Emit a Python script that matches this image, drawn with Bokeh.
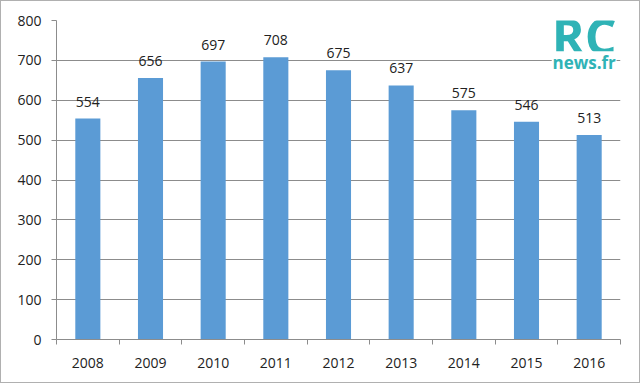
from bokeh.plotting import figure
from bokeh.models import ColumnDataSource, FixedTicker, Range1d, Label
from bokeh.core.properties import value
from bokeh.embed import file_html
from bokeh.resources import INLINE

years = ["2008", "2009", "2010", "2011", "2012", "2013", "2014", "2015", "2016"]
values = [554, 656, 697, 708, 675, 637, 575, 546, 513]
y_ticks = [0, 100, 200, 300, 400, 500, 600, 700, 800]

xs = [i + 0.5 for i in range(len(years))]
src = ColumnDataSource(dict(x=xs, top=values, label=[str(v) for v in values]))

p = figure(width=640, height=383, output_backend="svg", toolbar_location=None,
           x_range=Range1d(0, len(years)), y_range=Range1d(0, 800),
           min_border_left=55, min_border_right=21, min_border_top=19, min_border_bottom=45)
p.styles = {"border": "1px solid #b0b0b0", "box-sizing": "border-box"}
p.outline_line_color = None
p.background_fill_color = "white"
p.border_fill_color = "white"

p.vbar(x="x", top="top", width=0.4, bottom=0, source=src, fill_color="#5B9BD5", line_color=None)
p.text(x="x", y="top", text="label", source=src, text_align="center", text_baseline="middle",
       y_offset=-17, text_font_size="14px", text_color="#222222", text_font=value("Open Sans"))

p.xaxis.ticker = FixedTicker(ticks=xs, minor_ticks=list(range(len(years) + 1)))
p.xaxis.major_label_overrides = {x: y for x, y in zip(xs, years)}
p.xaxis.major_tick_line_color = None
p.xaxis.minor_tick_line_color = "#8c8c8c"
p.xaxis.minor_tick_in = 0
p.xaxis.minor_tick_out = 5
p.xaxis.axis_line_color = "#8c8c8c"
p.xaxis.major_label_standoff = 12
p.xaxis.major_label_text_font_size = "14px"
p.xaxis.major_label_text_font = "Open Sans"
p.xaxis.major_label_text_color = "#222222"

p.yaxis.ticker = FixedTicker(ticks=y_ticks)
p.yaxis.minor_tick_line_color = None
p.yaxis.major_tick_line_color = "#8c8c8c"
p.yaxis.major_tick_in = 0
p.yaxis.major_tick_out = 5
p.yaxis.axis_line_color = "#8c8c8c"
p.yaxis.major_label_standoff = 10
p.yaxis.major_label_text_font_size = "14px"
p.yaxis.major_label_text_font = "Open Sans"
p.yaxis.major_label_text_color = "#222222"

p.xgrid.grid_line_color = None
p.ygrid.grid_line_color = "#8c8c8c"
p.ygrid.ticker = FixedTicker(ticks=y_ticks)

# logo
p.add_layout(Label(x=8.42, y=762, text="RC", text_align="center", text_baseline="middle",
                   text_font="Open Sans", text_font_style="bold", text_font_size="50px",
                   text_color="#2fb3b6", background_fill_color="white"))
p.add_layout(Label(x=8.42, y=694, text="news.fr", text_align="center", text_baseline="middle",
                   text_font="Open Sans", text_font_style="bold", text_font_size="17px",
                   text_color="#2fb3b6", background_fill_color="white"))

open("out.html", "w").write(file_html(p, INLINE))
